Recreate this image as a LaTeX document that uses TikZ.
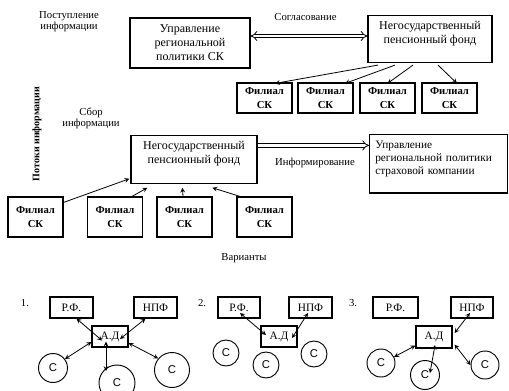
\documentclass[tikz,border=0pt]{standalone}
\usepackage{fontspec}
\setmainfont{Liberation Serif}
\setsansfont{Liberation Sans}
\usetikzlibrary{arrows,arrows.meta}

\begin{document}
\begin{tikzpicture}[x=0.75pt,y=-0.75pt,
  box/.style={draw,line width=0.9pt,align=center,font=\fontsize{9}{10.5}\selectfont},
  filial/.style={draw,line width=0.9pt,align=center,minimum width=41.25pt,font=\fontsize{8}{10.5}\selectfont\bfseries},
  lbl/.style={align=center,font=\fontsize{8}{8.5}\selectfont},
  small/.style={draw,line width=0.9pt,minimum height=15.75pt,inner sep=1pt,font=\fontsize{8.5}{9}\selectfont},
  circ/.style={draw,circle,line width=0.7pt,inner sep=0pt,font=\sffamily\fontsize{8.5}{9}\selectfont},
  link/.style={line width=0.6pt,->,>=stealth},
  both/.style={line width=0.6pt,<->,>=stealth},
  hollow/.style={double,double distance=2pt,line width=0.6pt}]
  \useasboundingbox (0,0) rectangle (509,390);

  % upper scheme
  \node[lbl] (inLbl) at (69,21.5) {Поступление\\информации};
  \node[box,minimum width=90pt,minimum height=37.5pt] (polSK) at (190,43) {Управление\\региональной\\политики СК};
  \node[box,anchor=north,minimum width=93pt,inner ysep=4pt] (npfA) at (430,15) {Негосударственный\\пенсионный фонд\\~};
  \node[lbl] (soglLbl) at (305.5,17) {Согласование};
  \draw[hollow,{Implies}-{Implies}] ([shift={(0,-7)}]polSK.east) -- ([shift={(0,-7)}]polSK.east -| npfA.west);

  \foreach \x/\n in {264.5/1,325.5/2,387.5/3,449.5/4}
    \node[filial,minimum height=22.5pt] (filA\n) at (\x,98) {Филиал\\СК};
  \foreach \dx/\n/\ex in {-52/1/10.5,-35/2/19.5,-17/3/0,8/4/7.5}
    \draw[link] ([shift={(\dx,2)}]npfA.south) -- ([shift={(\ex,1)}]filA\n.north);

  % middle scheme
  \node[lbl,rotate=90,font=\fontsize{7.5}{8}\selectfont\bfseries] (flowLbl) at (37,134) {Потоки информации};
  \node[lbl] (sborLbl) at (91,118) {Сбор\\информации};
  \node[box,anchor=north,minimum width=94.5pt,inner ysep=4.25pt] (npfB) at (194,135) {Негосударственный\\пенсионный фонд\\~};
  \node[box,anchor=north west,text width=95pt,align=left,inner xsep=4.25pt,inner ysep=4.5pt,
        font=\fontsize{8.5}{9.75}\selectfont] (uprSK) at (369,134) {Управление\\региональной политики\\страховой компании\\~};
  \node[lbl] (infLbl) at (315,163) {Информирование};
  \draw[hollow,-{Implies}] ([shift={(0,-14)}]npfB.east) -- ([shift={(0,-14)}]npfB.east -| uprSK.west);

  \foreach \x/\n in {35.5/1,115/2,184.5/3,264.5/4}
    \node[filial,minimum height=30pt] (filB\n) at (\x,217) {Филиал\\СК};
  \draw[link] ([shift={(0,6)}]filB1.north east) -- ([shift={(-1,-5)}]npfB.south west);
  \draw[link] ([shift={(17,0)}]filB2.north) -- ([shift={(17,4)}]npfB.south west);
  \draw[link] ([shift={(-1.5,0)}]filB3.north) -- ([shift={(52,4)}]npfB.south west);
  \draw[link] ([shift={(-24.5,0)}]filB4.north) -- ([shift={(82,4)}]npfB.south west);

  \node[lbl] (varLbl) at (244,258) {Варианты};

  % variant 1
  \node[lbl] (num1) at (25,303) {1.};
  \node[small,minimum width=32.25pt] (rf1) at (71.5,307.5) {Р.Ф.};
  \node[small,minimum width=32.25pt] (npf1) at (155.5,307.5) {НПФ};
  \node[small,minimum width=27pt] (ad1) at (110,336.5) {А.Д};
  \node[circ,minimum size=21.75pt] (cL1) at (53,368) {С};
  \node[circ,minimum size=27pt] (cB1) at (117,383) {С};
  \node[circ,minimum size=26.25pt] (cR1) at (172,370) {С};
  \draw[both] ([shift={(5,0)}]rf1.south) -- ([shift={(-8,4)}]ad1.center);
  \draw[both] ([shift={(-10,0)}]npf1.south) -- ([shift={(10,2.5)}]ad1.center);
  \draw[both] ([shift={(0,5.5)}]ad1.west) -- (cL1.37);
  \draw[both] ([shift={(-4,5)}]ad1.center) -- ([shift={(-11,-12)}]cB1.center);
  \draw[both] ([shift={(0,6.5)}]ad1.east) -- (cR1.140);

  % variant 2
  \node[lbl] (num2) at (202,303) {2.};
  \node[small,minimum width=31.5pt] (rf2) at (239,307.5) {Р.Ф.};
  \node[small,minimum width=32.25pt] (npf2) at (310.5,307.5) {НПФ};
  \node[small,minimum width=27pt] (ad2) at (279,336.5) {А.Д};
  \node[circ,minimum size=19.5pt] (cL2) at (226,353) {С};
  \node[circ,minimum size=19.5pt] (cM2) at (266,365) {С};
  \node[circ,minimum size=19.5pt] (cR2) at (314,354) {С};
  \draw[both] ([shift={(1,5.5)}]rf2.center) -- ([shift={(-13,-1.5)}]ad2.center);
  \draw[both] ([shift={(-2.5,5.5)}]npf2.center) -- ([shift={(13,1.5)}]ad2.center);

  % variant 3
  \node[lbl] (num3) at (353,303) {3.};
  \node[small,minimum width=33.75pt] (rf3) at (395.5,307.5) {Р.Ф.};
  \node[small,minimum width=31.5pt] (npf3) at (472,307.5) {НПФ};
  \node[small,minimum width=27pt,minimum height=16.5pt] (ad3) at (434,337) {А.Д};
  \node[circ,minimum size=21pt] (cL3) at (381,363) {С};
  \node[circ,minimum size=21.75pt] (cM3) at (425,375) {С};
  \node[circ,minimum size=21pt] (cR3) at (485,365) {С};
  \draw[both] ([shift={(-2,5.5)}]npf3.center) -- ([shift={(2,-4)}]ad3.east);
  \draw[both] ([shift={(0,-3)}]ad3.south west) -- (cL3.25);
  \draw[both] ([shift={(1,8)}]ad3.center) -- ([shift={(5,-2)}]cM3.center);
  \draw[both] ([shift={(2,-4)}]ad3.south east) -- (cR3.west);
\end{tikzpicture}
\end{document}
